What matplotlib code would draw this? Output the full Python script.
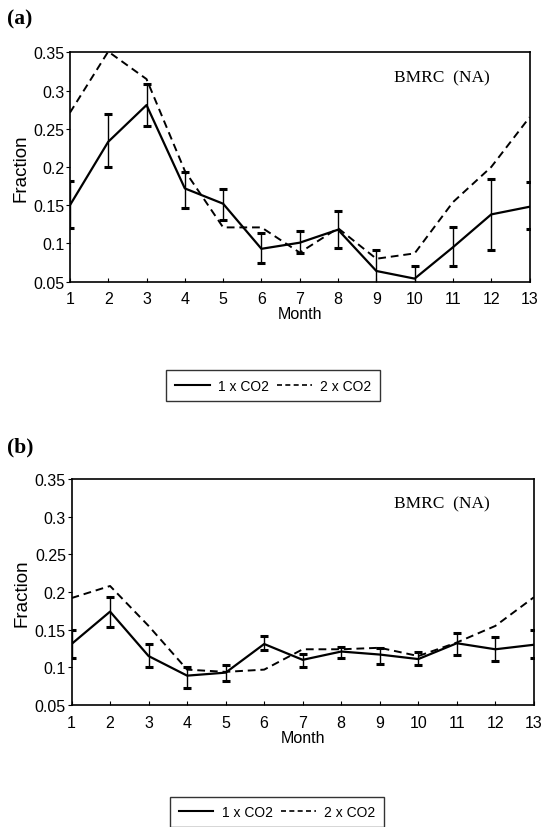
import matplotlib.pyplot as plt
from matplotlib.lines import Line2D

plt.rcParams['font.family'] = ['Liberation Sans', 'DejaVu Sans']

meses = list(range(1, 14))

# panel (a)
frac_1x_a = [0.150, 0.233, 0.281, 0.172, 0.152, 0.093, 0.101, 0.118, 0.064, 0.054, 0.095, 0.138, 0.148]
sup_1x_a = [0.182, 0.269, 0.309, 0.194, 0.171, 0.114, 0.116, 0.142, 0.092, 0.071, 0.121, 0.184, 0.180]
inf_1x_a = [0.120, 0.200, 0.254, 0.147, 0.131, 0.074, 0.088, 0.094, 0.036, 0.036, 0.071, 0.092, 0.119]
frac_2x_a = [0.271, 0.351, 0.315, 0.195, 0.121, 0.121, 0.088, 0.120, 0.080, 0.087, 0.154, 0.200, 0.265]

# panel (b)
frac_1x_b = [0.131, 0.174, 0.115, 0.089, 0.093, 0.131, 0.110, 0.121, 0.117, 0.111, 0.132, 0.124, 0.130]
sup_1x_b = [0.149, 0.194, 0.131, 0.100, 0.103, 0.141, 0.118, 0.127, 0.126, 0.120, 0.145, 0.140, 0.149]
inf_1x_b = [0.112, 0.153, 0.100, 0.073, 0.082, 0.123, 0.100, 0.112, 0.104, 0.103, 0.117, 0.108, 0.112]
frac_2x_b = [0.192, 0.208, 0.155, 0.097, 0.094, 0.097, 0.124, 0.124, 0.126, 0.115, 0.133, 0.155, 0.193]

yticks = [0.05, 0.1, 0.15, 0.2, 0.25, 0.3, 0.35]
ytick_labels = ['0.05', '0.1', '0.15', '0.2', '0.25', '0.3', '0.35']

fig = plt.figure(figsize=(5.42, 8.28), dpi=100)


def dibujar_panel(pos, frac1, sup1, inf1, frac2, letra, y_letra, x_texto, pos_leyenda):
    ax = fig.add_axes(pos)
    err = [[f - i for f, i in zip(frac1, inf1)], [s - f for f, s in zip(frac1, sup1)]]
    ax.errorbar(meses, frac1, yerr=err, color='black', lw=1.6, elinewidth=1.0,
                capsize=3, capthick=2.2)
    ax.plot(meses, frac2, color='black', lw=1.4, linestyle=(0, (4, 2.5)))
    ax.set_xlim(1, 13)
    ax.set_ylim(0.05, 0.35)
    ax.set_xticks(meses)
    ax.set_yticks(yticks)
    ax.set_yticklabels(ytick_labels)
    ax.tick_params(axis='x', direction='in', length=3, labelsize=11.5, pad=7)
    ax.tick_params(axis='y', direction='out', length=3, labelsize=11.5, pad=1)
    for s in ax.spines.values():
        s.set_linewidth(1.2)
    ax.set_xlabel('Month', fontsize=11.5, labelpad=0)
    ax.set_ylabel('Fraction', fontsize=13.5, labelpad=3)
    ax.text(x_texto, 0.89, 'BMRC  (NA)', transform=ax.transAxes, fontsize=12.5,
            family='Liberation Serif', va='center', ha='center')
    fig.text(0.012, y_letra, letra, fontsize=15.5, family='Liberation Serif',
             fontweight='bold', va='center')
    handles = [Line2D([], [], color='black', lw=1.5),
               Line2D([], [], color='black', lw=1.2, linestyle=(0, (3, 2)))]
    leg = fig.legend(handles, ['1 x CO2', '2 x CO2'], loc='center', ncol=2,
                     bbox_to_anchor=pos_leyenda, frameon=True, fancybox=False,
                     edgecolor='black', fontsize=10, handlelength=2.5,
                     columnspacing=0.6, handletextpad=0.6, borderpad=0.6,
                     borderaxespad=0)
    leg.get_frame().set_linewidth(1.0)


dibujar_panel([0.129, 0.6586, 0.848, 0.277], frac_1x_a, sup_1x_a, inf_1x_a, frac_2x_a,
              '(a)', 0.977, 0.81, (0.504, 0.533))
dibujar_panel([0.132, 0.1473, 0.853, 0.273], frac_1x_b, sup_1x_b, inf_1x_b, frac_2x_b,
              '(b)', 0.459, 0.80, (0.511, 0.018))

fig.savefig('out.png', dpi=100)
